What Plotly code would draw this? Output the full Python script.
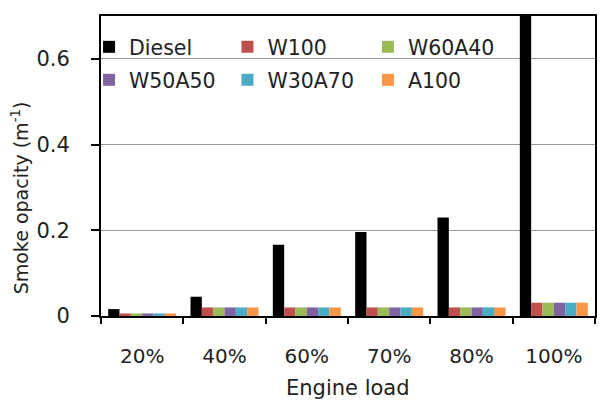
import plotly.graph_objects as go

loads = ["20%", "40%", "60%", "70%", "80%", "100%"]
diesel = [0.016, 0.045, 0.166, 0.196, 0.230, 0.72]
w100 = [0.006, 0.020, 0.020, 0.020, 0.020, 0.031]
w60a40 = [0.006, 0.020, 0.020, 0.020, 0.020, 0.031]
w50a50 = [0.006, 0.020, 0.020, 0.020, 0.020, 0.031]
w30a70 = [0.006, 0.020, 0.020, 0.020, 0.020, 0.031]
a100 = [0.006, 0.020, 0.020, 0.020, 0.020, 0.031]
y_ticks = [0, 0.2, 0.4, 0.6]
y_tick_text = ["0", "0.2", "0.4", "0.6"]

FONT = "DejaVu Sans"
TXT = "#222222"

W, H = 600, 401
ml, mr, mt, mb = 101, 3, 16, 85
pw, ph = W - ml - mr, H - mt - mb

# legend grid: two rows of three entries (pixel anchors of each entry)
series = [
    ("Diesel", diesel, "#000000", 89, 47),
    ("W100", w100, "#C0504D", 228, 47),
    ("W60A40", w60a40, "#9BBB59", 369, 47),
    ("W50A50", w50a50, "#8064A2", 89, 80),
    ("W30A70", w30a70, "#4BACC6", 228, 80),
    ("A100", a100, "#F79646", 369, 80),
]

fig = go.Figure()
legends = {}
for i, (name, vals, color, lx, ly) in enumerate(series):
    key = "legend" if i == 0 else f"legend{i + 1}"
    fig.add_trace(go.Bar(x=loads, y=vals, name=name, marker_color=color,
                         marker_line_width=0, legend=key, showlegend=True))
    legends[key] = dict(
        orientation="h", bgcolor="rgba(0,0,0,0)", borderwidth=0,
        font=dict(family=FONT, size=20.5, color=TXT),
        xanchor="left", yanchor="middle", itemclick=False,
        x=(lx - ml) / pw, y=(mt + ph - ly) / ph,
    )

fig.update_layout(
    width=W, height=H,
    margin=dict(l=ml, r=mr, t=mt, b=mb),
    paper_bgcolor="white", plot_bgcolor="white",
    showlegend=True,
    barmode="group", bargap=0.174, bargroupgap=0,
    font=dict(family=FONT, size=19, color=TXT),
    xaxis=dict(
        type="category", showline=True, linecolor="#000000", linewidth=2,
        mirror=True, ticks="outside", tickson="boundaries", ticklen=6,
        tickcolor="#000000", tickwidth=1.5, showgrid=False,
        tickfont=dict(family=FONT, size=20, color=TXT),
        ticklabelstandoff=21,
    ),
    yaxis=dict(
        range=[0, 0.70], tickvals=y_ticks, ticktext=y_tick_text,
        showline=True, linecolor="#000000", linewidth=2, mirror=True,
        ticks="outside", ticklen=8, tickcolor="#000000", tickwidth=1.5,
        showgrid=True, gridcolor="#9a9a9a", gridwidth=1, zeroline=False,
        tickfont=dict(family=FONT, size=21, color=TXT),
        ticklabelstandoff=17,
    ),
    annotations=[
        dict(text="Smoke opacity (m<sup>-1</sup>)", textangle=-90,
             xref="paper", yref="paper", x=-(ml - 20) / pw,
             y=(mt + ph - 198) / ph, xanchor="center", yanchor="middle",
             showarrow=False, font=dict(family=FONT, size=19, color=TXT)),
        dict(text="Engine load", xref="paper", yref="paper", x=0.5,
             y=-(388 - mt - ph) / ph, xanchor="center", yanchor="middle",
             showarrow=False, font=dict(family=FONT, size=21, color=TXT)),
    ],
    **legends,
)

fig.write_html("out.html")
